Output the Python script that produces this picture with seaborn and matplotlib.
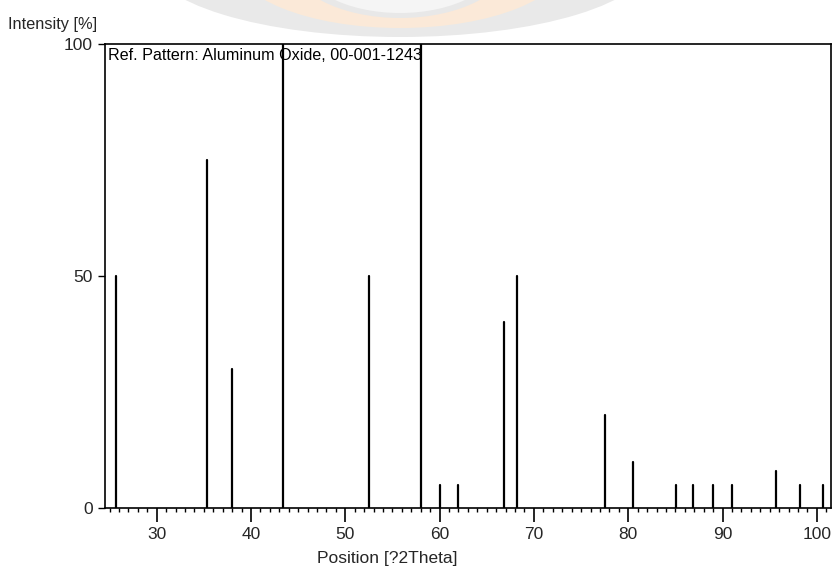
import numpy as np
import pandas as pd
import matplotlib
matplotlib.use("Agg")
import matplotlib.pyplot as plt
from matplotlib.patches import Ellipse
from matplotlib.ticker import MultipleLocator
import seaborn as sns

# Reference pattern peaks: position (°2Theta) and relative intensity (%)
positions = [25.65, 35.3, 38.0, 43.43, 52.55, 58.0, 60.04, 61.9, 66.86, 68.24,
             77.54, 80.54, 85.07, 86.9, 89.02, 91.04, 95.67, 98.2, 100.69]
intensities = [50, 75, 30, 100, 50, 100, 5, 5, 40, 50,
               20, 10, 5, 5, 5, 5, 8, 5, 5]

x_ticks = [30, 40, 50, 60, 70, 80, 90, 100]
y_ticks = [0, 50, 100]
pattern_label = "Ref. Pattern: Aluminum Oxide, 00-001-1243"
x_title = "Position [?2Theta]"
y_title = "Intensity [%]"

# Each stick is a two-point line from the baseline up to its intensity
rows = []
for i, (p, h) in enumerate(zip(positions, intensities)):
    rows.append({"peak": i, "pos": p, "intensity": 0})
    rows.append({"peak": i, "pos": p, "intensity": h})
sticks = pd.DataFrame(rows)

sns.set_style("white")
plt.rcParams["font.family"] = ["Liberation Sans Narrow", "Liberation Sans", "DejaVu Sans"]

W, H = 832, 571
fig = plt.figure(figsize=(W / 100, H / 100), dpi=100)
ax = fig.add_axes([105 / W, 1 - 508 / H, 726 / W, 464 / H])
ax.patch.set_alpha(0)

# faint emblem peeking in at the top of the page (pixel sizes, from top-left)
emblem_cx, emblem_cy = 400, -40
for a, b, col in [(251, 77, "#e9e9e9"),
                  (167, 68, "#fbe9d8"),
                  (110, 58, "#e8e8e8"),
                  (99, 53, "#f5f5f5")]:
    fig.add_artist(Ellipse((emblem_cx / W, 1 - emblem_cy / H), 2 * a / W, 2 * b / H,
                           transform=fig.transFigure, facecolor=col,
                           edgecolor="none", zorder=0))

sns.lineplot(data=sticks, x="pos", y="intensity", units="peak", estimator=None,
             color="black", linewidth=1.6, ax=ax, legend=False)

ax.set_xlim(24.52, 101.5)
ax.set_ylim(0, 100)
ax.set_xticks(x_ticks)
ax.set_yticks(y_ticks)
ax.xaxis.set_minor_locator(MultipleLocator(1))

for side in ["left", "right", "top", "bottom"]:
    ax.spines[side].set_visible(True)
    ax.spines[side].set_color("black")
    ax.spines[side].set_linewidth(1.2)

ax.tick_params(axis="x", which="major", direction="out", length=10, width=1.2,
               color="black", labelsize=12.5, pad=4, bottom=True)
ax.tick_params(axis="x", which="minor", direction="out", length=3, width=1.0,
               color="black", bottom=True)
ax.tick_params(axis="y", which="major", direction="out", length=5, width=1.0,
               color="black", labelsize=12.5, pad=4, left=True)

ax.set_xlabel(x_title, fontsize=12.5)
ax.xaxis.set_label_coords((387 - 105) / 726, -0.092)
ax.set_ylabel(y_title, fontsize=11.8, rotation=0, ha="left", va="center")
ax.yaxis.set_label_coords((8 - 105) / 726, (508 - 25) / 464)

ax.text(0.004, 0.975, pattern_label, transform=ax.transAxes, ha="left", va="center",
        fontsize=11.6, color="black")

fig.savefig("out.png", dpi=100)
